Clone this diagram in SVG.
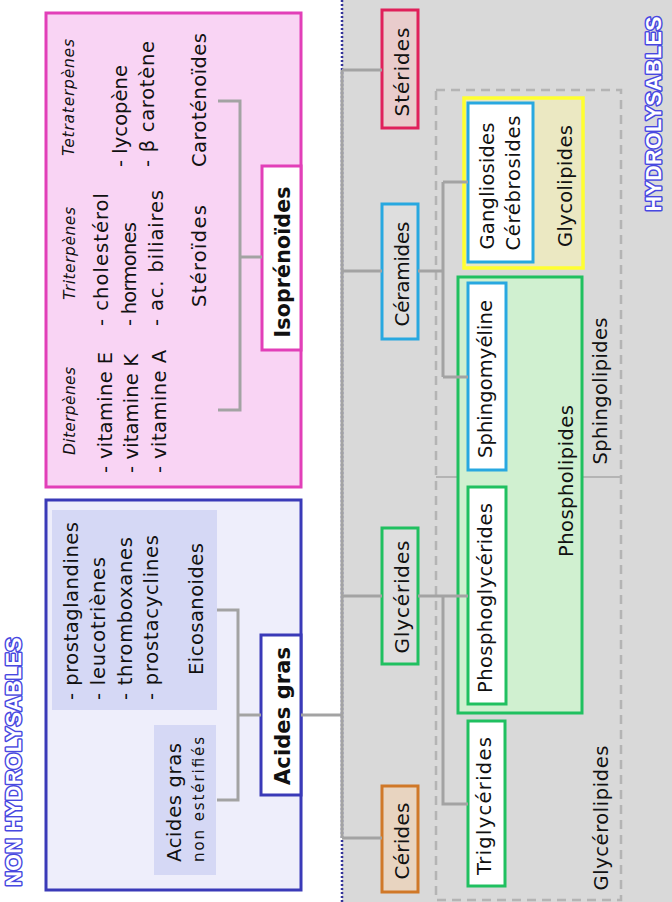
<svg xmlns="http://www.w3.org/2000/svg" width="672" height="902" viewBox="0 0 672 902">
<style>
.t{font-family:"DejaVu Sans","Liberation Sans",sans-serif;font-size:19.5px;fill:#111}
.i{font-style:italic;font-size:15.5px}
.b{font-weight:bold;font-size:20.5px}
.s{font-size:15px}
.lv{font-size:20px}
.big{font-family:"Liberation Sans",Arial,sans-serif;font-weight:bold;font-size:21.5px;fill:#fff;stroke:#4848e0;stroke-width:3px;paint-order:stroke;stroke-linejoin:round}
.c{fill:none;stroke:#a3a3a3;stroke-width:3}
.wb{fill:#fff;stroke-width:3}
.bl{stroke:#28a8e0}
.gr{stroke:#20c060}
</style>
<rect x="0" y="0" width="672" height="902" fill="#fff"/>
<g id="hydrolysables-bg">
<rect x="342" y="0" width="330" height="902" fill="#d9d9d9"/>
<line x1="342" y1="0" x2="342" y2="902" stroke="#333399" stroke-width="2.5" stroke-dasharray="2 2"/>
</g>
<g id="isoprenoides-panel">
<rect x="46" y="13" width="255" height="474" fill="#f9d4f4" stroke="#e23fb8" stroke-width="3"/>
<text class="t i" transform="translate(75 455) rotate(-90)" textLength="88">Diterpènes</text>
<text class="t" transform="translate(112 473) rotate(-90)" textLength="121">- vitamine E</text>
<text class="t" transform="translate(138 473) rotate(-90)" textLength="119">- vitamine K</text>
<text class="t" transform="translate(166 473) rotate(-90)" textLength="123">- vitamine A</text>
<text class="t i" transform="translate(75 300) rotate(-90)" textLength="93">Triterpènes</text>
<text class="t" transform="translate(108 326) rotate(-90)" textLength="133">- cholestérol</text>
<text class="t" transform="translate(136 326) rotate(-90)" textLength="104">- hormones</text>
<text class="t" transform="translate(163 326) rotate(-90)" textLength="136">- ac. biliaires</text>
<text class="t" transform="translate(206 307) rotate(-90)" textLength="102">Stéroïdes</text>
<text class="t i" transform="translate(74 156) rotate(-90)" textLength="117">Tetraterpènes</text>
<text class="t" transform="translate(127 167) rotate(-90)" textLength="102">- lycopène</text>
<text class="t" transform="translate(154 167) rotate(-90)" textLength="126">- β carotène</text>
<text class="t" transform="translate(206 167) rotate(-90)" textLength="134">Caroténoïdes</text>
</g>
<g id="isoprenoides">
<rect x="262" y="166" width="39" height="184" fill="#fff" stroke="#e23fb8" stroke-width="3"/>
<text class="t b" transform="translate(290 262) rotate(-90)" text-anchor="middle" textLength="151">Isoprénoïdes</text>
</g>
<g id="acides-gras-panel">
<rect x="46" y="500" width="255" height="390" fill="#eeeefb" stroke="#3a3ab8" stroke-width="3"/>
<rect x="52" y="510" width="165" height="200" fill="#d5d8f5"/>
<rect x="154" y="725" width="62" height="150" fill="#d5d8f5"/>
<text class="t" transform="translate(78 700) rotate(-90)" textLength="178">- prostaglandines</text>
<text class="t" transform="translate(105 700) rotate(-90)" textLength="143">- leucotriènes</text>
<text class="t" transform="translate(132 700) rotate(-90)" textLength="163">- thromboxanes</text>
<text class="t" transform="translate(158 700) rotate(-90)" textLength="165">- prostacyclines</text>
<text class="t" transform="translate(203 675) rotate(-90)" textLength="132">Eicosanoides</text>
<text class="t" transform="translate(181 862) rotate(-90)" textLength="119">Acides gras</text>
<text class="t s" transform="translate(204 862) rotate(-90)" textLength="125">non estérifiés</text>
</g>
<g id="acides-gras">
<rect x="261" y="635" width="40" height="160" fill="#fff" stroke="#3a3ab8" stroke-width="3"/>
<text class="t b" transform="translate(290 716) rotate(-90)" text-anchor="middle" textLength="138" style="font-size:21px">Acides gras</text>
</g>
<g id="groups">
<rect x="436" y="90" width="185" height="810" fill="none" stroke="#b4b4b4" stroke-width="2.5" stroke-dasharray="9 6"/>
<line x1="436" y1="477" x2="621" y2="477" stroke="#b4b4b4" stroke-width="2"/>
<text class="t" transform="translate(607 391) rotate(-90)" text-anchor="middle" textLength="147">Sphingolipides</text>
<text class="t" transform="translate(608 818) rotate(-90)" text-anchor="middle" textLength="145">Glycérolipides</text>
</g>
<g id="glycolipides">
<rect x="464" y="98" width="119" height="170" fill="#ebe8c2" stroke="#ffff30" stroke-width="3.5"/>
<text class="t" transform="translate(572 186) rotate(-90)" text-anchor="middle" textLength="122">Glycolipides</text>
</g>
<g id="gangliosides">
<rect class="wb bl" x="468" y="103" width="65" height="159"/>
<text class="t" transform="translate(494 186) rotate(-90)" text-anchor="middle" textLength="127">Gangliosides</text>
<text class="t" transform="translate(520 183) rotate(-90)" text-anchor="middle" textLength="135">Cérébrosides</text>
</g>
<g id="phospholipides">
<rect x="458" y="277" width="124" height="436" fill="#d0f0d0" stroke="#20c060" stroke-width="3"/>
<text class="t" transform="translate(573 481) rotate(-90)" text-anchor="middle" textLength="152">Phospholipides</text>
</g>
<g id="sphingomyeline">
<rect class="wb bl" x="468" y="283" width="38" height="187"/>
<text class="t" transform="translate(492 379) rotate(-90)" text-anchor="middle" textLength="158">Sphingomyéline</text>
</g>
<g id="phosphoglycerides">
<rect class="wb gr" x="468" y="487" width="38" height="217"/>
<text class="t" transform="translate(492 598) rotate(-90)" text-anchor="middle" textLength="190">Phosphoglycérides</text>
</g>
<g id="triglycerides">
<rect class="wb gr" x="468" y="721" width="37" height="165"/>
<text class="t" transform="translate(491 806) rotate(-90)" text-anchor="middle" textLength="138">Triglycérides</text>
</g>
<g id="sterides">
<rect x="382" y="10" width="36" height="118" fill="#e9cccc" stroke="#e0205a" stroke-width="3"/>
<text class="t lv" transform="translate(409 72) rotate(-90)" text-anchor="middle" textLength="89">Stérides</text>
</g>
<g id="ceramides">
<rect x="382" y="204" width="36" height="135" fill="#dedede" stroke="#28a8e0" stroke-width="3"/>
<text class="t lv" transform="translate(409 274) rotate(-90)" text-anchor="middle" textLength="105">Céramides</text>
</g>
<g id="glycerides">
<rect x="382" y="528" width="36" height="136" fill="#dedede" stroke="#20c060" stroke-width="3"/>
<text class="t lv" transform="translate(409 597) rotate(-90)" text-anchor="middle" textLength="113">Glycérides</text>
</g>
<g id="cerides">
<rect x="382" y="786" width="36" height="106" fill="#e8d4c0" stroke="#d07828" stroke-width="3"/>
<text class="t lv" transform="translate(409 841) rotate(-90)" text-anchor="middle" textLength="77">Cérides</text>
</g>
<g id="connectors">
<path class="c" d="M342 70V838M342 70H382M342 271H382M342 596H382M342 838H382M301 715H342"/>
<path class="c" d="M418 271H443M443 182V377M443 182H468M443 377H468"/>
<path class="c" d="M418 596H468M443 596V804H468"/>
<path class="c" d="M218 101H240V410H218M240 257H262"/>
<path class="c" d="M217 610H238V800H217M238 715H261"/>
</g>
<g id="labels">
<text class="big" transform="translate(661 114) rotate(-90)" text-anchor="middle" textLength="195">HYDROLYSABLES</text>
<text class="big" transform="translate(21 762) rotate(-90)" text-anchor="middle" textLength="249">NON HYDROLYSABLES</text>
</g>
</svg>
